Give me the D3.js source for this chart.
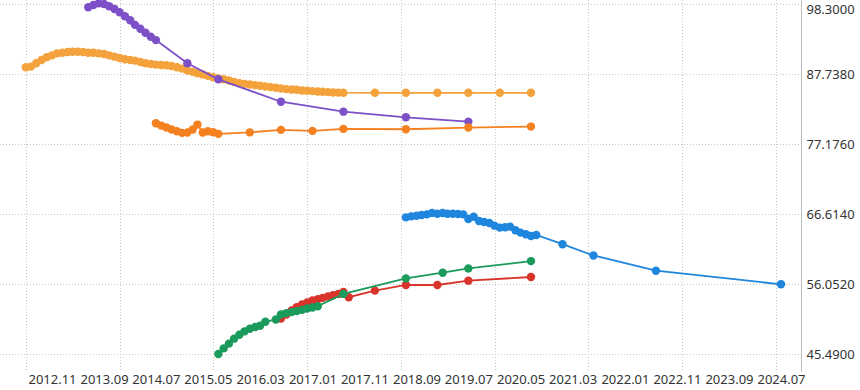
<!DOCTYPE html>
<html><head><meta charset="utf-8">
<script src="https://cdn.jsdelivr.net/npm/d3@7"></script>
<style>html,body{margin:0;padding:0;background:#fff;}svg{display:block;font-family:"Noto Sans",sans-serif;}</style>
</head><body><svg id="c" width="860" height="390"></svg>
<script>
// ---- tick labels ----
const xTickLabels = ["2012.11","2013.09","2014.07","2015.05","2016.03","2017.01","2017.11","2018.09","2019.07","2020.05","2021.03","2022.01","2022.11","2023.09","2024.07"];
const xGridDates = ["2012.06","2013.12","2015.06","2016.12","2018.06","2019.12","2021.06","2022.12","2024.06"];
const yTicks = [45.49, 56.052, 66.614, 77.176, 87.738, 98.3];

// ---- series: light orange ----
const lightOrangeDates = ["2012.06","2012.07","2012.08","2012.09","2012.10","2012.11","2012.12","2013.01","2013.02","2013.03","2013.04","2013.05","2013.06","2013.07","2013.08","2013.09","2013.10","2013.11","2013.12","2014.01","2014.02","2014.03","2014.04","2014.05","2014.06","2014.07","2014.08","2014.09","2014.10","2014.11","2014.12","2015.01","2015.02","2015.03","2015.04","2015.05","2015.06","2015.07","2015.08","2015.09","2015.10","2015.11","2015.12","2016.01","2016.02","2016.03","2016.04","2016.05","2016.06","2016.07","2016.08","2016.09","2016.10","2016.11","2016.12","2017.01","2017.02","2017.03","2017.04","2017.05","2017.06","2017.07","2018.01","2018.07","2019.01","2019.07","2020.01","2020.07"];
const lightOrangeValues = [88.8,88.9,89.4,89.9,90.3,90.6,90.9,91.0,91.1,91.15,91.15,91.1,91.0,91.0,90.9,90.8,90.6,90.4,90.2,90.0,89.9,89.8,89.6,89.4,89.3,89.2,89.15,89.1,89.0,88.8,88.6,88.3,88.1,87.9,87.7,87.5,87.3,87.1,87.0,86.8,86.6,86.4,86.3,86.2,86.1,86.0,85.9,85.8,85.7,85.6,85.5,85.45,85.4,85.3,85.25,85.2,85.15,85.1,85.05,85.0,84.98,84.96,84.95,84.95,84.95,84.95,84.95,84.95];

// ---- series: purple ----
const purpleDates = ["2013.06","2013.07","2013.08","2013.09","2013.10","2013.11","2013.12","2014.01","2014.02","2014.03","2014.04","2014.05","2014.06","2014.07","2015.01","2015.07","2016.07","2017.07","2018.07","2019.07"];
const purpleValues = [97.85,98.2,98.45,98.35,98.0,97.6,97.1,96.5,95.9,95.2,94.6,94.0,93.4,92.9,89.4,86.98,83.6,82.1,81.25,80.6];

// ---- series: dark orange ----
const darkOrangeDates = ["2014.07","2014.08","2014.09","2014.10","2014.11","2014.12","2015.01","2015.02","2015.03","2015.04","2015.05","2015.06","2015.07","2016.01","2016.07","2017.01","2017.07","2018.07","2019.07","2020.07"];
const darkOrangeValues = [80.35,80.0,79.7,79.4,79.15,78.9,78.95,79.4,80.15,78.95,79.15,79.0,78.75,78.98,79.35,79.2,79.5,79.45,79.7,79.85];

// ---- series: blue ----
const blueDates = ["2018.07","2018.08","2018.09","2018.10","2018.11","2018.12","2019.01","2019.02","2019.03","2019.04","2019.05","2019.06","2019.07","2019.08","2019.09","2019.10","2019.11","2019.12","2020.01","2020.02","2020.03","2020.04","2020.05","2020.06","2020.07","2020.08","2021.01","2021.07","2022.07","2024.07"];
const blueValues = [66.15,66.3,66.4,66.5,66.6,66.8,66.7,66.8,66.7,66.7,66.65,66.6,65.9,66.25,65.6,65.45,65.3,64.9,64.6,64.65,64.75,64.2,63.85,63.6,63.35,63.5,62.1,60.4,58.1,56.05];

// ---- series: red ----
const redDates = ["2016.07","2016.08","2016.09","2016.10","2016.11","2016.12","2017.01","2017.02","2017.03","2017.04","2017.05","2017.06","2017.07","2017.08","2018.01","2018.07","2019.01","2019.07","2020.07"];
const redValues = [50.9,51.5,52.1,52.6,53.0,53.3,53.6,53.8,54.0,54.2,54.4,54.6,54.9,54.1,55.1,55.95,55.95,56.6,57.15];

// ---- series: green ----
const greenDates = ["2015.07","2015.08","2015.09","2015.10","2015.11","2015.12","2016.01","2016.02","2016.03","2016.04","2016.06","2016.07","2016.08","2016.09","2016.10","2016.11","2016.12","2017.01","2017.02","2017.07","2018.07","2019.02","2019.07","2020.07"];
const greenValues = [45.53,46.38,47.1,47.85,48.45,48.95,49.35,49.6,49.8,50.4,50.75,51.5,51.7,51.85,52.0,52.2,52.4,52.55,52.75,54.6,56.95,57.8,58.45,59.55];

const seriesColors = {lightOrange:"#F4A23C", purple:"#7E50C8", darkOrange:"#F5801F", blue:"#1F86DE", red:"#D9342B", green:"#1A9A5B"};

// ---- build ----
const parse = d3.utcParse("%Y.%m");
const svg = d3.select("#c");
const x = d3.scaleUtc().domain([parse("2012.11"), parse("2024.07")]).range([52, 781]);
const y = d3.scaleLinear().domain([45.49, 98.3]).range([354.3, 4.3]);
const plotRight = 801, plotBottom = 372;

// horizontal grid
svg.append("g").selectAll("line").data(yTicks).join("line")
  .attr("x1", 0).attr("x2", plotRight)
  .attr("y1", d => Math.round(y(d)) + 0.5).attr("y2", d => Math.round(y(d)) + 0.5)
  .attr("stroke", "#c8c8c8").attr("stroke-dasharray", "1,2");
// vertical grid
svg.append("g").selectAll("line").data(xGridDates).join("line")
  .attr("x1", d => Math.round(x(parse(d))) + 0.5).attr("x2", d => Math.round(x(parse(d))) + 0.5)
  .attr("y1", 0).attr("y2", plotBottom)
  .attr("stroke", "#c8c8c8").attr("stroke-dasharray", "1,2");

// right axis
const yAxis = d3.axisRight(y).tickValues(yTicks).tickFormat(d3.format(".4f")).tickSize(0).tickPadding(5);
const ya = svg.append("g").attr("transform", `translate(${plotRight + 0.5},0)`).call(yAxis);
ya.select(".domain").attr("d", `M0,0V${plotBottom}`).attr("stroke", "#bdbdbd");
ya.selectAll("text").attr("font-size", 13).attr("fill", "#333").attr("font-family", "Noto Sans");
// keep the top label inside the picture
ya.selectAll(".tick").filter(d => d === 98.3).attr("transform", `translate(0,${Math.max(y(98.3), 10)})`);

// bottom axis labels
const xAxis = d3.axisBottom(x).tickValues(xTickLabels.map(parse)).tickFormat(d3.utcFormat("%Y.%m")).tickSize(0).tickPadding(0);
const xa = svg.append("g").attr("transform", `translate(0,375)`).call(xAxis);
xa.select(".domain").remove();
xa.selectAll("text").attr("font-size", 13).attr("fill", "#333").attr("font-family", "Noto Sans").attr("dy", "0.71em");

const series = [
  {key:"lightOrange", dates:lightOrangeDates, values:lightOrangeValues},
  {key:"purple", dates:purpleDates, values:purpleValues},
  {key:"darkOrange", dates:darkOrangeDates, values:darkOrangeValues},
  {key:"blue", dates:blueDates, values:blueValues},
  {key:"red", dates:redDates, values:redValues},
  {key:"green", dates:greenDates, values:greenValues}
];
const line = d3.line().x(d => x(d.d)).y(d => y(d.v));
series.forEach(s => {
  const pts = s.dates.map((d, i) => ({d: parse(d), v: s.values[i]}));
  const g = svg.append("g");
  g.append("path").datum(pts).attr("d", line).attr("fill", "none")
    .attr("stroke", seriesColors[s.key]).attr("stroke-width", 1.8);
  g.selectAll("circle").data(pts).join("circle")
    .attr("cx", d => x(d.d)).attr("cy", d => y(d.v)).attr("r", 4.2)
    .attr("fill", seriesColors[s.key]);
});
</script></body></html>
